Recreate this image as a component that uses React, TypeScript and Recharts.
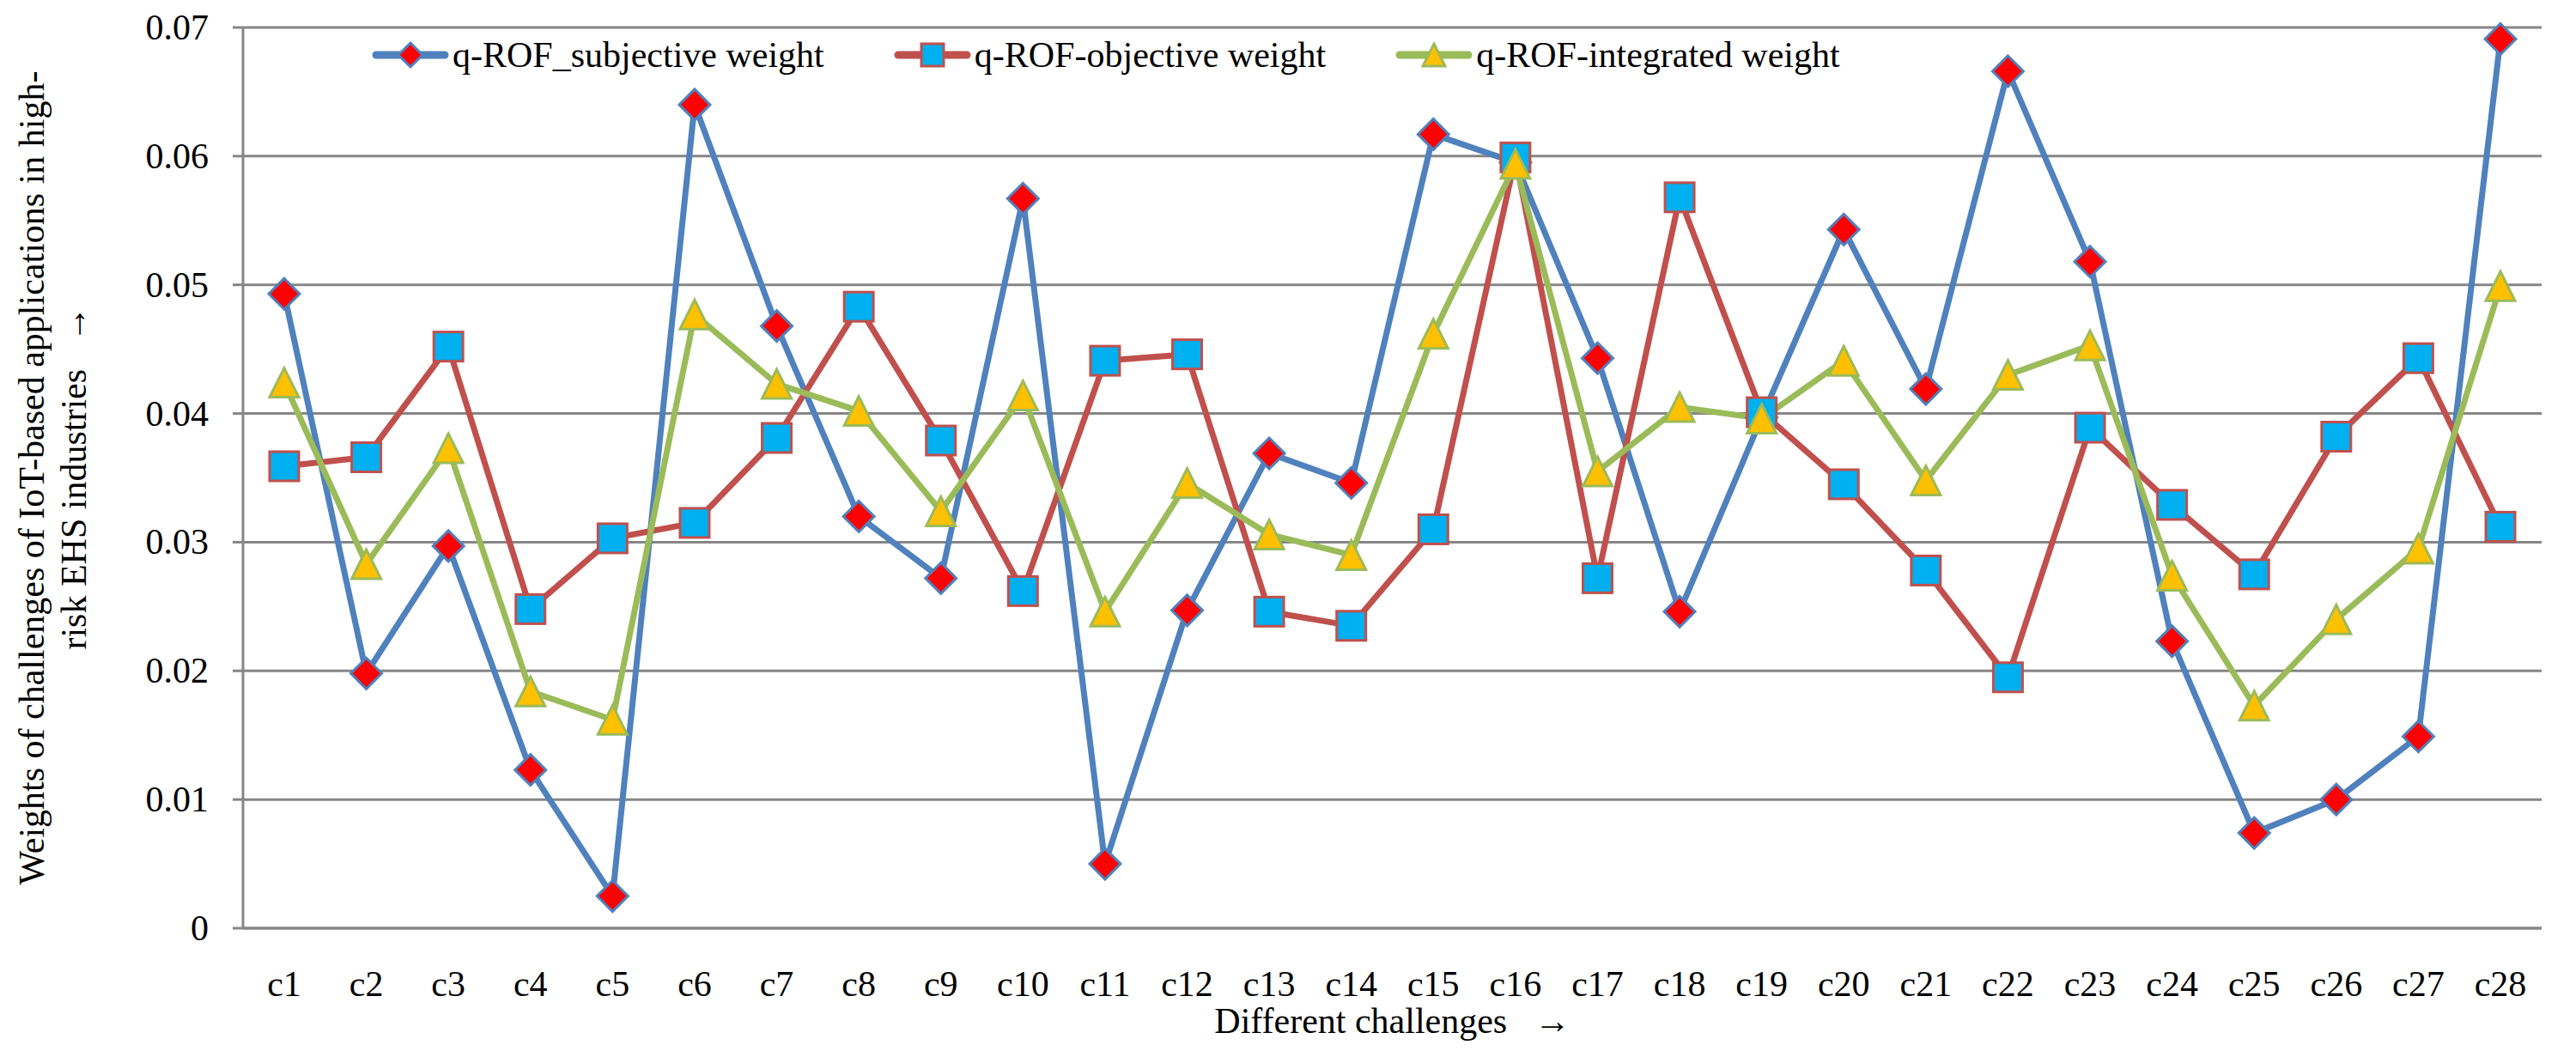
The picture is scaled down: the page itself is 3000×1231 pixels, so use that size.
import React from "react";
import { CartesianGrid, Line, LineChart, XAxis, YAxis } from "recharts";

const challenges = [
  "c1", "c2", "c3", "c4", "c5", "c6", "c7", "c8", "c9", "c10", "c11", "c12", "c13", "c14",
  "c15", "c16", "c17", "c18", "c19", "c20", "c21", "c22", "c23", "c24", "c25", "c26", "c27", "c28",
];

const subjectiveWeight = [
  0.0493, 0.0198, 0.0297, 0.0123, 0.0025, 0.064, 0.0468, 0.032, 0.0272, 0.0567, 0.005, 0.0247, 0.0369, 0.0346,
  0.0617, 0.0595, 0.0443, 0.0246, 0.0397, 0.0543, 0.0419, 0.0666, 0.0518, 0.0223, 0.0074, 0.01, 0.0149, 0.0691,
];

const objectiveWeight = [
  0.0359, 0.0366, 0.0452, 0.0248, 0.0303, 0.0315, 0.0381, 0.0483, 0.0379, 0.0262, 0.0441, 0.0446, 0.0246, 0.0235,
  0.031, 0.0599, 0.0272, 0.0568, 0.0401, 0.0345, 0.0278, 0.0195, 0.0389, 0.0329, 0.0275, 0.0382, 0.0443, 0.0312,
];

const integratedWeight = [
  0.0424, 0.0283, 0.0373, 0.0184, 0.0162, 0.0477, 0.0423, 0.0402, 0.0324, 0.0414, 0.0246, 0.0346, 0.0306, 0.029,
  0.0462, 0.0594, 0.0355, 0.0405, 0.0396, 0.0441, 0.0348, 0.043, 0.0453, 0.0274, 0.0173, 0.024, 0.0295, 0.0499,
];

const yTicks = [0, 0.01, 0.02, 0.03, 0.04, 0.05, 0.06, 0.07];

const seriesNames = ["q-ROF_subjective weight", "q-ROF-objective weight", "q-ROF-integrated weight"];

const data = challenges.map((name, i) => ({
  name,
  subjective: subjectiveWeight[i],
  objective: objectiveWeight[i],
  integrated: integratedWeight[i],
}));

const FONT = "'Liberation Serif', 'Times New Roman', serif";
const GRID = "#868686";
const BLUE = "#4F81BD";
const RED = "#C0504D";
const GREEN = "#9BBB59";

function Diamond({ cx, cy, r }: { cx: number; cy: number; r: number }) {
  return (
    <path
      d={`M${cx},${cy - r} L${cx + r},${cy} L${cx},${cy + r} L${cx - r},${cy} Z`}
      fill="#FF0000"
      stroke={BLUE}
      strokeWidth={3}
    />
  );
}

function Square({ cx, cy, r }: { cx: number; cy: number; r: number }) {
  return (
    <rect x={cx - r} y={cy - r} width={2 * r} height={2 * r} fill="#00B0F0" stroke={RED} strokeWidth={3} />
  );
}

function Triangle({ cx, cy, r }: { cx: number; cy: number; r: number }) {
  return (
    <path
      d={`M${cx},${cy - r} L${cx + r},${cy + r} L${cx - r},${cy + r} Z`}
      fill="#FFC000"
      stroke={GREEN}
      strokeWidth={3}
    />
  );
}

const markers = [Diamond, Square, Triangle];
const colors = [BLUE, RED, GREEN];

function LegendIcon({ idx }: { idx: number }) {
  const M = markers[idx];
  return (
    <svg width={90} height={40} style={{ display: "block" }}>
      <line x1={5} y1={20} x2={85} y2={20} stroke={colors[idx]} strokeWidth={9} strokeLinecap="round" />
      <M cx={45} cy={20} r={idx === 0 ? 14 : 13} />
    </svg>
  );
}

function XTick({ x, y, payload }: any) {
  return (
    <text x={x} y={y + 79} textAnchor="middle" fontFamily={FONT} fontSize={42} fill="#000">
      {payload.value}
    </text>
  );
}

function YTick({ x, y, payload }: any) {
  const v = payload.value as number;
  return (
    <text x={x} y={y + 14} textAnchor="end" fontFamily={FONT} fontSize={42} fill="#000">
      {v === 0 ? "0" : v.toFixed(2)}
    </text>
  );
}

function YLabel({ viewBox }: any) {
  const cy = viewBox.y + viewBox.height / 2;
  return (
    <g>
      <text
        x={51}
        y={cy}
        transform={`rotate(-90, 51, ${cy})`}
        textAnchor="middle"
        fontFamily={FONT}
        fontSize={42}
        fill="#000"
      >
        Weights of challenges of IoT-based applications in high-
      </text>
      <text
        x={100}
        y={cy}
        transform={`rotate(-90, 100, ${cy})`}
        textAnchor="middle"
        fontFamily={FONT}
        fontSize={42}
        fill="#000"
      >
        {"risk EHS industries\u00A0\u00A0\u00A0→"}
      </text>
    </g>
  );
}

function XLabel({ viewBox }: any) {
  const cx = viewBox.x + viewBox.width / 2;
  return (
    <text x={cx} y={1203} textAnchor="middle" fontFamily={FONT} fontSize={42} fill="#000">
      {"Different challenges\u00A0\u00A0\u00A0→"}
    </text>
  );
}

export default function App() {
  return (
    <div
      style={{
        position: "absolute",
        left: 0,
        top: 0,
        width: 3000,
        height: 1231,
        background: "#fff",
        fontFamily: FONT,
      }}
    >
      <LineChart width={3000} height={1231} data={data} margin={{ top: 32, right: 40, left: 0, bottom: 0 }}>
        <CartesianGrid vertical={false} stroke={GRID} strokeWidth={3} />
        <XAxis
          dataKey="name"
          height={150}
          padding={{ left: 48, right: 48 }}
          tickLine={false}
          axisLine={{ stroke: GRID, strokeWidth: 3 }}
          tickSize={0}
          tickMargin={0}
          tick={<XTick />}
          interval={0}
          label={<XLabel />}
        />
        <YAxis
          width={283}
          domain={[0, 0.07]}
          ticks={yTicks}
          interval={0}
          axisLine={{ stroke: GRID, strokeWidth: 3 }}
          tickLine={{ stroke: GRID, strokeWidth: 3 }}
          tickSize={12}
          tickMargin={28}
          tick={<YTick />}
          label={<YLabel />}
        />
        <Line
          dataKey="subjective"
          name={seriesNames[0]}
          stroke={BLUE}
          strokeWidth={7}
          isAnimationActive={false}
          dot={(p: any) => <Diamond key={`s-${p.index}`} cx={p.cx} cy={p.cy} r={18} />}
          activeDot={false}
        />
        <Line
          dataKey="objective"
          name={seriesNames[1]}
          stroke={RED}
          strokeWidth={7}
          isAnimationActive={false}
          dot={(p: any) => <Square key={`o-${p.index}`} cx={p.cx} cy={p.cy} r={17} />}
          activeDot={false}
        />
        <Line
          dataKey="integrated"
          name={seriesNames[2]}
          stroke={GREEN}
          strokeWidth={7}
          isAnimationActive={false}
          dot={(p: any) => <Triangle key={`i-${p.index}`} cx={p.cx} cy={p.cy} r={17} />}
          activeDot={false}
        />
      </LineChart>
      <div
        style={{
          position: "absolute",
          left: 433,
          top: 44,
          display: "flex",
          alignItems: "center",
          fontFamily: FONT,
          fontSize: 42,
          lineHeight: "40px",
          color: "#000",
          whiteSpace: "nowrap",
        }}
      >
        {seriesNames.map((n, i) => (
          <div key={n} style={{ display: "flex", alignItems: "center", marginRight: 81 }}>
            <LegendIcon idx={i} />
            <span style={{ marginLeft: 4 }}>{n}</span>
          </div>
        ))}
      </div>
    </div>
  );
}
